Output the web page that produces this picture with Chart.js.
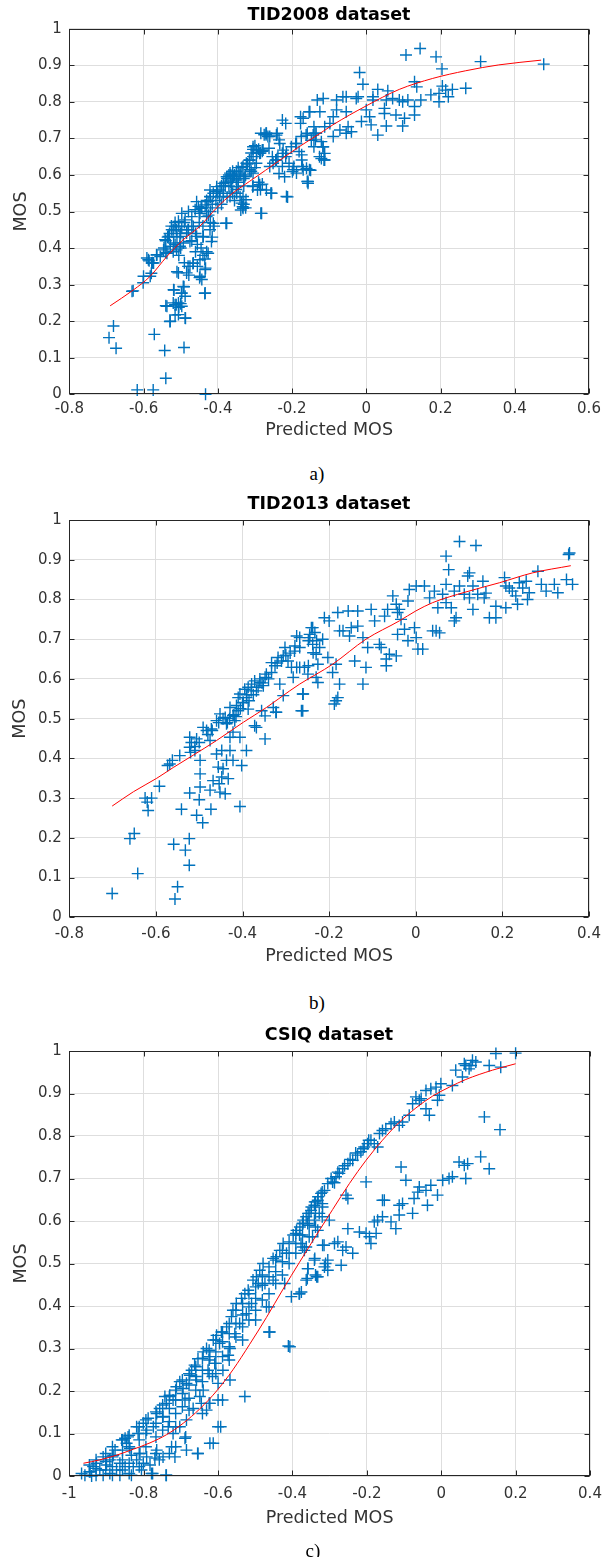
<!DOCTYPE html>
<html>
<head>
<meta charset="utf-8">
<script src="https://cdn.jsdelivr.net/npm/chart.js@4.4.1/dist/chart.umd.min.js"></script>
<style>
  body { margin: 0; background: #fff; width: 612px; height: 1557px; position: relative; overflow: hidden; }
  canvas { position: absolute; left: 0; }
  .title { position: absolute; transform: translate(-50%, -50%); font: bold 17.5px "DejaVu Sans"; color: #000; white-space: nowrap; line-height: 1; z-index: 2; }
  .caption { position: absolute; transform: translate(-50%, -50%); font: 19px "Liberation Serif"; color: #000; line-height: 1; }
</style>
</head>
<body>
<div class="title" style="left:329px;top:15px">TID2008 dataset</div>
<canvas id="chartA" width="612" height="446" style="top:0px"></canvas>
<div class="caption" style="left:317px;top:473px">a)</div>

<div class="title" style="left:329px;top:504px">TID2013 dataset</div>
<canvas id="chartB" width="612" height="488" style="top:490px"></canvas>
<div class="caption" style="left:317px;top:1002px">b)</div>

<div class="title" style="left:329px;top:1035px">CSIQ dataset</div>
<canvas id="chartC" width="612" height="520" style="top:1020px"></canvas>
<div class="caption" style="left:313px;top:1550px">c)</div>

<script>
// ---- TID2008: [predicted MOS, MOS] ----
const tid2008Points = [
  [-0.693,0.155],[-0.681,0.187],[-0.674,0.126],[-0.617,0.012],[-0.574,0.012],[-0.571,0.164],[-0.543,0.12],[-0.54,0.044],
  [-0.433,0.0],[-0.491,0.128],[-0.487,0.208],[-0.529,0.199],[-0.515,0.217],[-0.54,0.242],[-0.512,0.245],[-0.5,0.248],
  [-0.52,0.25],[-0.505,0.238],[-0.498,0.276],[-0.518,0.285],[-0.491,0.294],[-0.435,0.276],[-0.449,0.319],[-0.433,0.345],
  [-0.467,0.358],[-0.455,0.35],[-0.478,0.326],[-0.628,0.283],[-0.601,0.305],[-0.579,0.331],[-0.576,0.36],[-0.585,0.365],
  [-0.565,0.381],[-0.54,0.388],[-0.51,0.335],[-0.49,0.36],[-0.48,0.35],
  [-0.545,0.4],[-0.54,0.42],[-0.535,0.43],[-0.53,0.44],[-0.525,0.46],[-0.52,0.45],[-0.515,0.47],[-0.51,0.43],[-0.505,0.46],
  [-0.5,0.4],[-0.5,0.44],[-0.505,0.38],[-0.52,0.39],[-0.515,0.41],[-0.49,0.47],[-0.48,0.45],[-0.47,0.46],[-0.47,0.42],
  [-0.46,0.44],[-0.46,0.39],[-0.455,0.41],[-0.45,0.47],[-0.445,0.4],[-0.44,0.38],[-0.435,0.37],[-0.43,0.39],[-0.44,0.43],
  [-0.44,0.46],[-0.45,0.5],[-0.445,0.51],[-0.43,0.51],[-0.425,0.49],[-0.42,0.5],[-0.415,0.52],[-0.42,0.47],[-0.415,0.43],
  [-0.41,0.46],[-0.405,0.53],[-0.4,0.55],[-0.395,0.54],[-0.39,0.52],[-0.385,0.55],[-0.38,0.57],[-0.375,0.59],[-0.37,0.6],
  [-0.365,0.58],[-0.36,0.59],[-0.355,0.6],[-0.35,0.61],[-0.345,0.58],[-0.34,0.6],[-0.335,0.62],[-0.33,0.59],[-0.325,0.6],
  [-0.32,0.63],[-0.315,0.64],[-0.31,0.66],[-0.305,0.67],[-0.3,0.68],[-0.295,0.66],[-0.29,0.67],[-0.285,0.66],[-0.28,0.665],
  [-0.275,0.71],[-0.27,0.71],[-0.265,0.705],[-0.36,0.55],[-0.355,0.53],[-0.35,0.56],[-0.34,0.54],[-0.33,0.52],[-0.325,0.51],
  [-0.33,0.57],[-0.38,0.58],[-0.39,0.57],[-0.375,0.54],[-0.4,0.51],[-0.42,0.54],[-0.43,0.53],[-0.378,0.468],[-0.31,0.61],
  [-0.3,0.62],[-0.305,0.57],[-0.29,0.58],[-0.285,0.56],[-0.28,0.575],[-0.284,0.495],[-0.257,0.55],[-0.306,0.568],
  [-0.293,0.559],[-0.324,0.532],[-0.333,0.513],[-0.338,0.504],[-0.37,0.57],[-0.36,0.61],[-0.35,0.59],[-0.345,0.62],[-0.365,0.6],
  [-0.587,0.368],[-0.578,0.359],[-0.564,0.382],[-0.542,0.423],[-0.533,0.432],[-0.524,0.45],[-0.515,0.459],[-0.506,0.473],
  [-0.497,0.459],[-0.488,0.477],[-0.479,0.45],[-0.47,0.486],[-0.461,0.505],[-0.452,0.514],[-0.443,0.509],[-0.434,0.518],
  [-0.426,0.527],[-0.421,0.541],[-0.412,0.55],[-0.403,0.555],[-0.394,0.559],[-0.385,0.577],[-0.376,0.595],[-0.367,0.605],
  [-0.358,0.595],[-0.349,0.586],[-0.34,0.605],[-0.332,0.623],[-0.323,0.632],[-0.314,0.641],[-0.305,0.677],[-0.296,0.668],
  [-0.287,0.659],[-0.305,0.65],[-0.278,0.668],[-0.26,0.705],[-0.242,0.709],[-0.269,0.714],[-0.233,0.686],[-0.224,0.668],
  [-0.215,0.659],[-0.202,0.677],[-0.188,0.686],[-0.175,0.705],[-0.162,0.709],[-0.148,0.695],[-0.135,0.714],[-0.117,0.677],
  [-0.112,0.641],[-0.126,0.65],[-0.153,0.614],[-0.17,0.614],[-0.188,0.605],[-0.197,0.614],[-0.22,0.595],[-0.242,0.641],
  [-0.251,0.632],[-0.238,0.65],[-0.26,0.623],[-0.287,0.573],[-0.269,0.559],[-0.255,0.55],[-0.215,0.541],[-0.157,0.577],
  [-0.282,0.495],[-0.376,0.468],[-0.417,0.418],[-0.426,0.386],[-0.448,0.368],[-0.466,0.359],[-0.475,0.35],[-0.484,0.332],
  [-0.506,0.332],[-0.493,0.295],[-0.448,0.323],[-0.434,0.341],[-0.443,0.314],[-0.519,0.286],[-0.497,0.277],[-0.488,0.268],
  [-0.506,0.25],[-0.515,0.245],[-0.497,0.241],[-0.537,0.241],[-0.506,0.218],[-0.488,0.209],[-0.528,0.2],[-0.434,0.277],
  [-0.573,0.359],[-0.591,0.373],[-0.6,0.323],[-0.582,0.323],[-0.631,0.282],
  [-0.511,0.395],[-0.502,0.405],[-0.493,0.414],[-0.475,0.418],[-0.457,0.432],[-0.439,0.432],[-0.421,0.45],[-0.412,0.468],
  [-0.43,0.486],[-0.448,0.495],[-0.466,0.459],[-0.484,0.441],[-0.502,0.432],[-0.519,0.414],[-0.528,0.405],[-0.546,0.395],
  [-0.555,0.377],[-0.537,0.386],[-0.511,0.45],[-0.497,0.495],[-0.479,0.5],[-0.457,0.527],[-0.421,0.559],[-0.403,0.568],
  [-0.385,0.541],[-0.367,0.541],[-0.349,0.55],[-0.332,0.541],[-0.336,0.523],[-0.332,0.509],[-0.363,0.568],[-0.345,0.568],
  [-0.327,0.595],[-0.314,0.614],[-0.296,0.632],[-0.305,0.605],
  [-0.235,0.604],[-0.226,0.623],[-0.244,0.641],[-0.226,0.659],[-0.217,0.65],[-0.208,0.632],[-0.212,0.54],[-0.217,0.741],
  [-0.226,0.75],[-0.177,0.759],[-0.154,0.773],[-0.141,0.732],[-0.159,0.714],[-0.177,0.741],[-0.19,0.686],[-0.181,0.664],
  [-0.172,0.623],[-0.159,0.582],[-0.195,0.623],[-0.199,0.609],[-0.15,0.613],[-0.137,0.696],[-0.132,0.805],[-0.141,0.677],
  [-0.253,0.65],[-0.262,0.673],[-0.27,0.714],[-0.24,0.714],[-0.235,0.696],[-0.284,0.714],[-0.28,0.668],
  [0.107,0.928],[0.145,0.946],[0.188,0.923],[0.204,0.89],[0.308,0.91],[0.478,0.903],[-0.018,0.88],[-0.009,0.848],
  [0.031,0.834],[0.058,0.83],[0.136,0.841],[0.13,0.855],[0.205,0.843],[0.214,0.832],[0.232,0.834],[0.221,0.814],
  [0.268,0.837],[0.174,0.819],[0.196,0.8],[0.196,0.823],[0.147,0.805],[0.13,0.787],[0.13,0.764],[0.112,0.805],
  [0.098,0.8],[0.089,0.805],[0.08,0.764],[0.103,0.755],[0.098,0.734],[0.071,0.809],[0.054,0.805],[0.049,0.782],
  [0.049,0.768],[0.054,0.734],[0.031,0.709],[0.013,0.737],[0.009,0.759],[0.018,0.805],[0.018,0.814],[0,0.778],
  [-0.013,0.746],[-0.022,0.814],[-0.027,0.809],[-0.054,0.814],[-0.063,0.814],[-0.08,0.805],[-0.116,0.809],[-0.054,0.773],
  [-0.04,0.718],[-0.054,0.714],[-0.049,0.732],[-0.071,0.723],[-0.089,0.705],[-0.098,0.741],[-0.112,0.732],[-0.089,0.759],
  [-0.08,0.778],[-0.125,0.773],[-0.152,0.773],[-0.17,0.755],[-0.138,0.714],[-0.121,0.691],[-0.116,0.677],[-0.121,0.645],
  [-0.114,0.641],[-0.112,0.659],[-0.161,0.618],[-0.157,0.582],[-0.174,0.641],[-0.174,0.655],[-0.143,0.709]
];
const tid2008FitX = [-0.69,-0.628,-0.583,-0.538,-0.494,-0.449,-0.404,-0.36,-0.315,-0.271,-0.226,-0.181,-0.13,-0.09,0,0.089,0.179,0.268,0.357,0.471];
const tid2008FitY = [0.242,0.285,0.322,0.376,0.422,0.459,0.509,0.55,0.582,0.613,0.645,0.677,0.71,0.737,0.789,0.834,0.864,0.885,0.901,0.914];

// ---- TID2013 ----
const tid2013Points = [
  [-0.701,0.06],[-0.642,0.11],[-0.66,0.198],[-0.65,0.211],[-0.556,0.046],[-0.55,0.077],[-0.559,0.184],[-0.532,0.169],
  [-0.523,0.198],[-0.523,0.131],[-0.541,0.272],[-0.492,0.238],[-0.506,0.257],[-0.473,0.272],[-0.406,0.279],[-0.618,0.269],
  [-0.625,0.3],[-0.61,0.3],[-0.62,0.29],[-0.592,0.33],[-0.522,0.313],[-0.5,0.296],[-0.498,0.328],[-0.475,0.32],
  [-0.468,0.344],[-0.452,0.315],[-0.44,0.311],[-0.433,0.349],[-0.454,0.336],
  [-0.568,0.386],[-0.562,0.395],[-0.545,0.407],[-0.573,0.382],
  [-0.522,0.428],[-0.518,0.44],[-0.522,0.453],[-0.506,0.449],[-0.51,0.42],[-0.498,0.395],[-0.498,0.361],[-0.491,0.478],
  [-0.483,0.47],[-0.472,0.474],[-0.475,0.445],[-0.46,0.411],[-0.456,0.378],[-0.445,0.374],[-0.448,0.353],[-0.46,0.495],
  [-0.452,0.512],[-0.44,0.503],[-0.437,0.487],[-0.429,0.528],[-0.422,0.508],[-0.418,0.495],[-0.414,0.533],[-0.41,0.553],
  [-0.406,0.562],[-0.398,0.541],[-0.391,0.553],[-0.387,0.524],[-0.395,0.574],[-0.387,0.579],[-0.379,0.587],[-0.372,0.595],
  [-0.36,0.591],[-0.364,0.579],[-0.352,0.583],[-0.348,0.604],[-0.345,0.612],[-0.368,0.57],[-0.368,0.478],[-0.372,0.482],
  [-0.348,0.449],[-0.391,0.42],[-0.402,0.382],[-0.406,0.453],[-0.429,0.453],[-0.422,0.466],[-0.429,0.42],[-0.437,0.395],
  [-0.448,0.42],[-0.422,0.395],[-0.356,0.52],[-0.348,0.507],[-0.329,0.528],[-0.323,0.516],[-0.333,0.641],[-0.325,0.633],
  [-0.318,0.654],[-0.306,0.658],[-0.302,0.679],[-0.295,0.645],[-0.287,0.629],[-0.275,0.629],[-0.279,0.683],[-0.275,0.708],
  [-0.248,0.696],[-0.245,0.712],[-0.241,0.729],[-0.233,0.717],[-0.229,0.696],[-0.237,0.666],[-0.248,0.633],[-0.26,0.562],
  [-0.264,0.52],[-0.283,0.604],[-0.306,0.558],[-0.322,0.516],[-0.333,0.616],[-0.314,0.587],
  [-0.43,0.5],[-0.42,0.51],[-0.41,0.52],[-0.4,0.54],[-0.39,0.56],[-0.38,0.57],[-0.375,0.56],[-0.385,0.545],[-0.405,0.525],
  [-0.415,0.505],[-0.435,0.49],[-0.445,0.5],[-0.455,0.49],[-0.47,0.47],[-0.48,0.46],[-0.5,0.44],[-0.51,0.43],[-0.52,0.415],
  [-0.36,0.6],[-0.355,0.59],[-0.34,0.6],[-0.32,0.64],[-0.31,0.645],[-0.3,0.66],[-0.29,0.665],[-0.28,0.67],
  [-0.268,0.704],[-0.268,0.679],[-0.268,0.629],[-0.261,0.562],[-0.261,0.52],[-0.245,0.704],[-0.238,0.729],[-0.238,0.687],
  [-0.23,0.662],[-0.226,0.637],[-0.257,0.629],[-0.249,0.612],[-0.23,0.604],[-0.226,0.591],[-0.222,0.679],[-0.215,0.7],
  [-0.211,0.754],[-0.2,0.746],[-0.203,0.654],[-0.192,0.616],[-0.184,0.637],[-0.176,0.587],[-0.184,0.545],[-0.18,0.553],
  [-0.188,0.537],[-0.18,0.767],[-0.176,0.721],[-0.168,0.721],[-0.156,0.771],[-0.153,0.708],[-0.149,0.729],[-0.141,0.645],
  [-0.134,0.771],[-0.134,0.733],[-0.122,0.587],[-0.115,0.629],[-0.122,0.704],[-0.111,0.679],[-0.103,0.775],[-0.095,0.746],
  [-0.084,0.687],[-0.08,0.679],[-0.068,0.65],[-0.068,0.633],[-0.061,0.662],[-0.045,0.658],[-0.072,0.758],[-0.065,0.775],
  [-0.053,0.809],[-0.045,0.788],[-0.042,0.767],[-0.034,0.75],[-0.038,0.775],[-0.018,0.796],[-0.015,0.825],[0.001,0.834],
  [-0.042,0.712],[-0.026,0.725],[-0.018,0.696],[-0.003,0.729],[0.001,0.704],[0.005,0.675],[0.016,0.675],[0.02,0.834],
  [0.032,0.804],[0.043,0.821],[0.047,0.721],[0.055,0.716],[0.039,0.721],[0.051,0.779],[0.07,0.909],[0.076,0.875],
  [0.07,0.838],[0.062,0.813],[0.07,0.792],[0.082,0.779],[0.089,0.821],[0.093,0.754],[0.089,0.746],[0.101,0.946],
  [0.139,0.936],[0.101,0.834],[0.112,0.813],[0.124,0.867],[0.12,0.859],[0.132,0.834],[0.132,0.775],[0.124,0.804],
  [0.143,0.813],[0.155,0.846],[0.158,0.804],[0.162,0.816],[0.17,0.754],[0.185,0.754],[0.185,0.783],[0.205,0.855],
  [0.208,0.834],[0.208,0.779],[0.216,0.829],[0.223,0.821],[0.231,0.809],[0.235,0.788],[0.239,0.842],[0.247,0.829],
  [0.255,0.846],[0.258,0.8],[0.262,0.817],[0.282,0.871],[0.29,0.838],[0.301,0.821],[0.32,0.838],[0.328,0.817],
  [0.348,0.85],[0.355,0.917],[0.353,0.913],[0.362,0.838]
];
const tid2013FitX = [-0.701,-0.652,-0.598,-0.56,-0.514,-0.46,-0.398,-0.345,-0.291,-0.268,-0.192,-0.115,-0.038,0,0.039,0.116,0.193,0.27,0.358];
const tid2013FitY = [0.28,0.316,0.35,0.377,0.408,0.445,0.491,0.528,0.57,0.587,0.637,0.70,0.746,0.771,0.792,0.819,0.842,0.867,0.885];

// ---- CSIQ ----
const csiqPoints = [
  [-0.967,0.006],[-0.958,0.002],[-0.94,0],[-0.944,0.01],[-0.936,0.022],[-0.927,0.03],[-0.918,0.014],[-0.909,0.002],
  [-0.9,0.026],[-0.891,0.038],[-0.882,0.049],[-0.877,0.061],[-0.873,0.014],[-0.864,0.03],[-0.859,0.085],[-0.85,0.089],
  [-0.842,0.092],[-0.846,0.077],[-0.837,0.065],[-0.833,0.049],[-0.828,0.022],[-0.819,0.038],[-0.81,0.053],[-0.806,0.014],
  [-0.801,0.03],[-0.792,0.045],[-0.783,0.026],[-0.779,0.006],[-0.77,0.042],[-0.765,0.061],[-0.748,0.045],[-0.739,0.002],
  [-0.725,0.069],[-0.716,0.045],[-0.689,0.089],[-0.685,0.061],[-0.654,0.053],[-0.622,0.077],[-0.6,0.116],[-0.528,0.187],
  [-0.909,0.045],[-0.891,0.006],[-0.864,0.002],[-0.85,0.022],[-0.833,0.002],[-0.819,0.116],[-0.801,0.124],[-0.815,0.1],
  [-0.788,0.136],[-0.792,0.108],[-0.774,0.116],[-0.765,0.147],[-0.757,0.159],[-0.748,0.14],[-0.739,0.171],[-0.743,0.187],
  [-0.73,0.19],[-0.721,0.179],[-0.734,0.116],[-0.721,0.1],[-0.712,0.21],[-0.703,0.222],[-0.694,0.206],[-0.689,0.179],
  [-0.685,0.218],[-0.676,0.237],[-0.671,0.249],[-0.663,0.261],[-0.658,0.226],[-0.654,0.276],[-0.649,0.187],[-0.645,0.171],
  [-0.64,0.292],[-0.631,0.3],[-0.627,0.249],[-0.622,0.281],[-0.613,0.32],[-0.609,0.265],[-0.604,0.331],[-0.6,0.218],
  [-0.596,0.312],[-0.591,0.339],[-0.587,0.249],[-0.577,0.351],[-0.573,0.284],[-0.568,0.3],[-0.564,0.375],[-0.56,0.39],
  [-0.555,0.335],[-0.551,0.406],[-0.542,0.359],[-0.537,0.418],[-0.528,0.429],[-0.524,0.382],[-0.519,0.437],[-0.51,0.406],
  [-0.506,0.461],[-0.497,0.469],[-0.492,0.453],[-0.488,0.484],[-0.479,0.5],[-0.474,0.453],[-0.47,0.398],[-0.461,0.339],
  [-0.452,0.461],[-0.452,0.512],[-0.443,0.516],[-0.434,0.531],[-0.425,0.547],[-0.416,0.524],[-0.421,0.453],[-0.407,0.304],
  [-0.403,0.422],[-0.398,0.567],[-0.389,0.578],[-0.38,0.586],[-0.376,0.433],[-0.371,0.602],[-0.358,0.618],[-0.349,0.633],
  [-0.34,0.645],[-0.331,0.657],[-0.34,0.512],[-0.358,0.488],[-0.335,0.469],
  [-0.667,0.159],[-0.631,0.155],[-0.64,0.202],[-0.622,0.171],[-0.685,0.132],[-0.703,0.116],[-0.6,0.179],[-0.568,0.226],
  [-0.946,0.026],[-0.946,0.01],[-0.928,0.038],[-0.928,0.018],[-0.928,0.002],[-0.902,0.053],[-0.902,0.034],[-0.902,0.014],
  [-0.884,0.069],[-0.884,0.045],[-0.884,0.022],[-0.884,0.002],[-0.857,0.085],[-0.857,0.061],[-0.857,0.038],[-0.857,0.014],
  [-0.839,0.096],[-0.839,0.069],[-0.839,0.03],[-0.839,0.006],[-0.812,0.116],[-0.812,0.085],[-0.812,0.053],[-0.812,0.022],
  [-0.794,0.132],[-0.794,0.1],[-0.794,0.069],[-0.767,0.151],[-0.767,0.124],[-0.767,0.092],[-0.767,0.053],
  [-0.749,0.167],[-0.749,0.139],[-0.749,0.108],[-0.731,0.187],[-0.731,0.159],[-0.731,0.128],
  [-0.714,0.202],[-0.714,0.179],[-0.714,0.147],[-0.714,0.116],[-0.696,0.226],[-0.696,0.194],[-0.696,0.163],
  [-0.678,0.241],[-0.678,0.214],[-0.678,0.183],[-0.66,0.257],[-0.66,0.234],[-0.66,0.202],
  [-0.642,0.277],[-0.642,0.249],[-0.642,0.222],[-0.624,0.296],[-0.624,0.273],[-0.624,0.241],
  [-0.606,0.32],[-0.606,0.292],[-0.606,0.265],[-0.588,0.339],[-0.588,0.316],[-0.588,0.281],
  [-0.57,0.359],[-0.57,0.335],[-0.57,0.304],[-0.552,0.39],[-0.552,0.359],[-0.552,0.327],
  [-0.534,0.406],[-0.534,0.379],[-0.534,0.351],[-0.517,0.429],[-0.517,0.398],[-0.517,0.367],
  [-0.499,0.445],[-0.499,0.418],[-0.499,0.39],[-0.481,0.473],[-0.481,0.449],[-0.481,0.414],
  [-0.463,0.492],[-0.463,0.469],[-0.463,0.429],[-0.445,0.508],[-0.445,0.481],[-0.445,0.453],
  [-0.427,0.531],[-0.427,0.504],[-0.427,0.473],[-0.409,0.551],[-0.409,0.524],[-0.409,0.5],
  [-0.391,0.571],[-0.391,0.547],[-0.391,0.524],[-0.373,0.594],[-0.373,0.567],[-0.373,0.539],
  [-0.355,0.618],[-0.355,0.59],[-0.355,0.563],[-0.338,0.645],[-0.338,0.618],[-0.338,0.586],
  [-0.32,0.668],[-0.32,0.641],[-0.32,0.61],
  [-0.615,0.234],[-0.588,0.179],[-0.624,0.171],[-0.642,0.147],[-0.678,0.155],[-0.687,0.092],[-0.655,0.053],[-0.613,0.077],
  [-0.593,0.116],[-0.463,0.339],[-0.411,0.306],[-0.382,0.429],[-0.36,0.465],[-0.338,0.473],[-0.315,0.543],[-0.311,0.5],
  [-0.463,0.398],[-0.499,0.367],[-0.534,0.32],[-0.57,0.273],[-0.606,0.241],[-0.731,0.053],[-0.714,0.069],[-0.758,0.038],
  [-0.776,0.006],[-0.74,0.002],
  [-0.381,0.567],[-0.372,0.594],[-0.363,0.61],[-0.35,0.625],[-0.341,0.637],[-0.332,0.649],[-0.323,0.665],[-0.314,0.672],
  [-0.305,0.688],[-0.292,0.692],[-0.283,0.704],[-0.274,0.712],[-0.265,0.723],[-0.251,0.735],[-0.238,0.743],[-0.225,0.755],
  [-0.216,0.763],[-0.207,0.774],[-0.198,0.782],[-0.189,0.79],[-0.18,0.782],[-0.171,0.774],[-0.166,0.806],[-0.158,0.813],
  [-0.149,0.817],[-0.135,0.829],[-0.126,0.833],[-0.113,0.825],[-0.104,0.833],[-0.086,0.849],[-0.077,0.876],[-0.068,0.892],
  [-0.054,0.888],[-0.041,0.907],[-0.028,0.911],[-0.014,0.915],[-0.005,0.896],[-0.001,0.923],[-0.01,0.884],[-0.041,0.864],
  [-0.032,0.849],[-0.059,0.884],[0.03,0.919],[0.039,0.955],[0.057,0.939],[0.066,0.966],[0.075,0.958],[0.084,0.978],
  [0.093,0.974],[0.062,0.97],[0.08,0.966],[0.129,0.966],[0.147,0.994],[0.16,0.962],[0.2,0.995],[0.116,0.845],[0.158,0.815],
  [-0.363,0.539],[-0.346,0.563],[-0.377,0.547],[-0.368,0.531],[-0.332,0.578],[-0.359,0.594],[-0.341,0.602],[-0.328,0.618],
  [-0.319,0.633],[-0.301,0.602],[-0.256,0.661],[-0.251,0.653],[-0.202,0.692],
  [-0.296,0.7],[-0.287,0.69],[-0.278,0.715],[-0.26,0.73],[-0.245,0.745],[-0.23,0.76],[-0.21,0.77],[-0.195,0.79],
  [-0.381,0.429],[-0.363,0.461],[-0.359,0.488],[-0.341,0.508],[-0.332,0.469],[-0.319,0.543],[-0.314,0.492],[-0.305,0.508],
  [-0.305,0.484],[-0.287,0.547],[-0.278,0.551],[-0.269,0.496],[-0.265,0.531],[-0.256,0.539],[-0.251,0.582],[-0.238,0.524],
  [-0.22,0.574],[-0.202,0.571],[-0.193,0.563],[-0.189,0.547],[-0.175,0.571],[-0.18,0.598],[-0.171,0.602],[-0.158,0.61],
  [-0.153,0.649],[-0.135,0.598],[-0.122,0.582],[-0.113,0.614],[-0.113,0.637],[-0.104,0.641],[-0.077,0.618],[-0.073,0.653],
  [-0.063,0.668],[-0.059,0.68],[-0.037,0.637],[-0.041,0.672],[-0.028,0.684],[-0.01,0.661],[-0.108,0.727],[-0.095,0.696],
  [0.004,0.696],[0.021,0.7],[0.03,0.704],[0.048,0.739],[0.062,0.731],[0.071,0.735],[0.066,0.7],[0.106,0.751],[0.129,0.723],
  [-0.158,0.649]
];
const csiqFitX = [-0.962,-0.918,-0.873,-0.828,-0.783,-0.739,-0.694,-0.649,-0.604,-0.56,-0.515,-0.47,-0.425,-0.381,-0.337,-0.292,-0.247,-0.202,-0.158,-0.113,-0.068,-0.023,0.022,0.066,0.138,0.2];
const csiqFitY = [0.03,0.038,0.049,0.063,0.078,0.097,0.124,0.158,0.2,0.25,0.31,0.373,0.44,0.503,0.565,0.627,0.688,0.743,0.79,0.832,0.866,0.894,0.915,0.933,0.955,0.97];

// axis ticks
const yTicks = [0,0.1,0.2,0.3,0.4,0.5,0.6,0.7,0.8,0.9,1];
const xTicksA = [-0.8,-0.6,-0.4,-0.2,0,0.2,0.4,0.6];
const xTicksB = [-0.8,-0.6,-0.4,-0.2,0,0.2,0.4];
const xTicksC = [-1,-0.8,-0.6,-0.4,-0.2,0,0.2,0.4];

const BLUE = 'rgb(0,114,189)';
const AXIS = '#262626';
Chart.defaults.font.family = '"DejaVu Sans"';
Chart.defaults.color = '#333';

// MATLAB-style box with inward ticks on all sides
const boxPlugin = {
  id: 'matlabBox',
  afterDraw(chart) {
    const { ctx, chartArea: a, scales: { x, y } } = chart;
    const L = Math.round(a.left) + 0.5, R = Math.round(a.right) - 0.5;
    const T = Math.round(a.top) + 0.5, B = Math.round(a.bottom) - 0.5;
    ctx.save();
    ctx.strokeStyle = AXIS;
    ctx.lineWidth = 1;
    ctx.strokeRect(L, T, R - L, B - T);
    ctx.beginPath();
    x.ticks.forEach(t => {
      const px = Math.round(x.getPixelForValue(t.value)) + 0.5;
      ctx.moveTo(px, B); ctx.lineTo(px, B - 5);
      ctx.moveTo(px, T); ctx.lineTo(px, T + 5);
    });
    y.ticks.forEach(t => {
      const py = Math.round(y.getPixelForValue(t.value)) + 0.5;
      ctx.moveTo(L, py); ctx.lineTo(L + 5, py);
      ctx.moveTo(R, py); ctx.lineTo(R - 5, py);
    });
    ctx.stroke();
    ctx.restore();
  }
};

const fmt = v => String(Math.round(v * 10) / 10);

function makeChart(id, points, fitX, fitY, xTicks, p) {
  return new Chart(document.getElementById(id), {
    type: 'scatter',
    data: {
      datasets: [
        {
          type: 'line',
          data: fitX.map((v, i) => ({ x: v, y: fitY[i] })),
          borderColor: 'rgb(255,0,0)',
          borderWidth: 1,
          pointRadius: 0,
          cubicInterpolationMode: 'monotone',
          fill: false
        },
        {
          data: points.map(d => ({ x: d[0], y: d[1] })),
          pointStyle: 'cross',
          pointRadius: 6,
          pointHoverRadius: 6,
          pointBorderWidth: 1.4,
          pointBorderColor: BLUE,
          pointBackgroundColor: BLUE,
          clip: false
        }
      ]
    },
    options: {
      responsive: false,
      animation: false,
      events: [],
      layout: { padding: { top: p.padTop, right: p.padRight, left: 0, bottom: 0 } },
      plugins: { legend: { display: false }, tooltip: { enabled: false } },
      scales: {
        x: {
          type: 'linear',
          min: xTicks[0],
          max: xTicks[xTicks.length - 1],
          afterBuildTicks: s => { s.ticks = xTicks.map(v => ({ value: v })); },
          afterFit: s => { s.height = p.xHeight; },
          grid: { color: '#dedede', drawTicks: false },
          border: { display: false },
          ticks: { callback: fmt, font: { size: 15 }, padding: p.tickPad, maxRotation: 0, color: '#333' },
          title: { display: true, text: 'Predicted MOS', font: { size: 17.5 }, color: '#333', padding: { top: 0, bottom: p.xTitlePad } }
        },
        y: {
          type: 'linear',
          min: 0,
          max: 1,
          afterBuildTicks: s => { s.ticks = yTicks.map(v => ({ value: v })); },
          afterFit: s => { s.width = 69.3; },
          grid: { color: '#dedede', drawTicks: false },
          border: { display: false },
          ticks: { callback: fmt, font: { size: 15 }, padding: 7.5, color: '#333' },
          title: { display: true, text: 'MOS', font: { size: 17.5 }, color: '#333', padding: { top: p.yTitlePad, bottom: 0 } }
        }
      }
    },
    plugins: [boxPlugin]
  });
}

makeChart('chartA', tid2008Points, tid2008FitX, tid2008FitY, xTicksA,
  { padTop: 28.7, padRight: 23, xHeight: 51.7, tickPad: 6, xTitlePad: 5.5, yTitlePad: 11.2 });
makeChart('chartB', tid2013Points, tid2013FitX, tid2013FitY, xTicksB,
  { padTop: 30, padRight: 23, xHeight: 60.7, tickPad: 8, xTitlePad: 10.8, yTitlePad: 10.2 });
makeChart('chartC', csiqPoints, csiqFitX, csiqFitY, xTicksC,
  { padTop: 31, padRight: 22, xHeight: 64, tickPad: 9, xTitlePad: 11.2, yTitlePad: 11.2 });
</script>
</body>
</html>
